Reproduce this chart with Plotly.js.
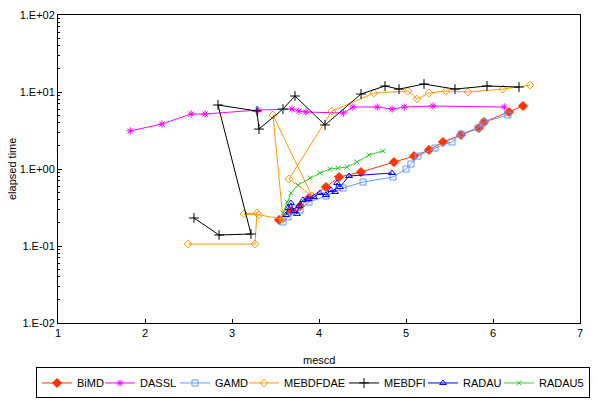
<!DOCTYPE html>
<html>
<head>
<meta charset="utf-8">
<script src="https://cdn.plot.ly/plotly-3.0.1.min.js"></script>
<style>html,body{margin:0;padding:0;background:#fff;}#chart{width:603px;height:410px;}</style>
</head>
<body>
<div id="chart"></div>
<script>
const bimdX = [3.54, 3.678, 3.782, 3.885, 4.08, 4.23, 4.483, 4.862, 5.092, 5.264, 5.425, 5.632, 5.839, 5.897, 6.184, 6.345];
const bimdY = [0.218, 0.285, 0.33, 0.42, 0.583, 0.787, 0.914, 1.23, 1.47, 1.77, 2.24, 2.77, 3.41, 4.07, 5.49, 6.58];

const dasslX = [1.83, 2.195, 2.53, 2.69, 3.30, 3.69, 3.77, 3.85, 4.28, 4.39, 4.67, 4.84, 4.98, 5.31, 6.13];
const dasslY = [3.12, 3.84, 5.18, 5.18, 5.83, 6.0, 5.66, 5.5, 5.33, 6.38, 6.38, 6.0, 6.38, 6.58, 6.38];

const gamdX = [3.586, 3.644, 3.782, 3.885, 4.08, 4.276, 4.506, 4.851, 5.0, 5.057, 5.138, 5.333, 5.529, 5.632, 5.828, 5.897, 6.172];
const gamdY = [0.205, 0.238, 0.294, 0.372, 0.446, 0.566, 0.677, 0.787, 1.0, 1.16, 1.47, 1.87, 2.24, 2.85, 3.41, 4.07, 5.03];

const mebdfdaeX = [2.494, 3.264, 3.287, 3.138, 3.31, 3.586, 3.471, 3.92, 3.655, 4.149, 4.632, 5.023, 5.126, 5.264, 5.46, 5.713, 6.115, 6.425];
const mebdfdaeY = [0.106, 0.106, 0.268, 0.261, 0.253, 0.224, 5.03, 0.446, 0.741, 5.66, 9.7, 10.3, 8.1, 9.7, 10.3, 10.0, 10.9, 12.3];

const mebdfiX = [2.563, 2.851, 3.218, 2.839, 3.287, 3.31, 3.586, 3.724, 4.069, 4.483, 4.759, 4.92, 5.207, 5.563, 5.931, 6.299];
const mebdfiY = [0.231, 0.139, 0.143, 6.78, 5.66, 3.30, 6.01, 8.87, 3.73, 9.42, 11.97, 10.9, 12.7, 10.9, 11.97, 11.6];

const radauX = [3.621, 3.644, 3.678, 3.713, 3.747, 3.77, 3.816, 3.874, 3.943, 4.011, 4.08, 4.138, 4.184, 4.207, 4.241, 4.345, 4.839];
const radauY = [0.253, 0.312, 0.361, 0.285, 0.261, 0.33, 0.395, 0.408, 0.432, 0.488, 0.459, 0.534, 0.503, 0.658, 0.583, 0.811, 0.887];

const radau5X = [3.586, 3.632, 3.678, 3.759, 3.897, 4.011, 4.126, 4.218, 4.322, 4.437, 4.575, 4.736];
const radau5Y = [0.268, 0.372, 0.488, 0.619, 0.764, 0.887, 1.0, 1.03, 1.06, 1.23, 1.52, 1.71];

const xTicks = [1, 2, 3, 4, 5, 6, 7];
const yTickVals = [0.01, 0.1, 1, 10, 100];
const yTickText = ['1.E-02', '1.E-01', '1.E+00', '1.E+01', '1.E+02'];

// minor tick positions (2..9 within each decade)
const yMinor = [];
for (let d = -2; d < 2; d++) {
  for (let m = 2; m <= 9; m++) yMinor.push(m * Math.pow(10, d));
}

function series(name, x, y, color, symbol, size, lw) {
  return {
    type: 'scatter', mode: 'lines+markers', name: name, x: x, y: y,
    line: {color: color, width: 1},
    marker: {color: color, symbol: symbol, size: size, line: {color: color, width: 1}},
    cliponaxis: false,
    legendwidth: lw
  };
}

const data = [
  series('BiMD', bimdX, bimdY, '#FF3300', 'diamond', 7, 18),
  series('DASSL', dasslX, dasslY, '#FF00FF', 'asterisk-open', 6, 30),
  series('GAMD', gamdX, gamdY, '#6699FF', 'square-open', 6, 24),
  series('MEBDFDAE', mebdfdaeX, mebdfdaeY, '#FF9900', 'diamond-open', 6, 55),
  series('MEBDFI', mebdfiX, mebdfiY, '#000000', 'cross-thin-open', 7, 34),
  series('RADAU', radauX, radauY, '#0000FF', 'triangle-up-open', 6, 31),
  series('RADAU5', radau5X, radau5Y, '#33CC33', 'x-thin-open', 5, 45)
];

const font = {family: 'Liberation Sans, Arial, sans-serif', size: 11, color: '#000'};

const layout = {
  width: 603, height: 410,
  margin: {l: 58, r: 23, t: 15, b: 87, autoexpand: false},
  paper_bgcolor: '#fff', plot_bgcolor: '#fff',
  font: font,
  showlegend: true,
  xaxis: {
    range: [1, 7], tickvals: xTicks, ticktext: xTicks.map(String),
    showgrid: false, zeroline: false,
    showline: true, linecolor: '#000', linewidth: 1, mirror: true,
    ticks: 'inside', ticklen: 4, tickcolor: '#000',
    tickfont: font
  },
  yaxis: {
    type: 'log', range: [-2, 2], tickvals: yTickVals, ticktext: yTickText,
    showgrid: false, zeroline: false,
    showline: true, linecolor: '#000', linewidth: 1, mirror: true,
    ticks: 'inside', ticklen: 4, tickcolor: '#000',
    minor: {tickmode: 'array', tickvals: yMinor, ticks: 'inside', ticklen: 2, tickcolor: '#000', showgrid: false},
    tickfont: font
  },
  annotations: [
    {text: 'mescd', xref: 'paper', yref: 'paper', x: 0.5, y: 0, yshift: -37,
     xanchor: 'center', yanchor: 'middle', showarrow: false, font: font},
    {text: 'elapsed time', xref: 'paper', yref: 'paper', x: 0, y: 0.5, xshift: -46,
     xanchor: 'center', yanchor: 'middle', textangle: -90, showarrow: false, font: font}
  ],
  legend: {
    orientation: 'h', x: -0.0421, xanchor: 'left', xref: 'paper',
    y: -0.245, yanchor: 'bottom', yref: 'paper',
    bordercolor: '#000', borderwidth: 1, bgcolor: '#fff',
    font: {family: 'Liberation Sans, Arial, sans-serif', size: 11, color: '#000'},
    itemwidth: 30, tracegroupgap: 0
  }
};

Plotly.newPlot('chart', data, layout, {displayModeBar: false, staticPlot: true});
</script>
</body>
</html>
